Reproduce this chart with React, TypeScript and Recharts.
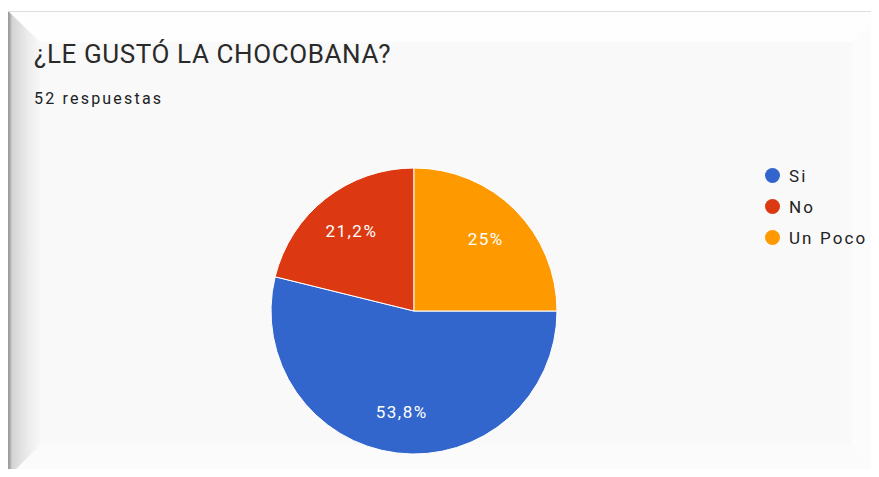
import { PieChart, Pie, Cell, Legend } from "recharts";

const categories = ["Si", "No", "Un Poco"];
const responses = [28, 11, 13];
const colors = ["#3366cc", "#dc3912", "#ff9900"];

const data = categories.map((name, i) => ({ name, value: responses[i] }));

const RADIAN = Math.PI / 180;

function fmtPct(p: number) {
  const s = (p * 100).toFixed(1);
  return (s.endsWith(".0") ? s.slice(0, -2) : s).replace(".", ",") + "%";
}

function renderLabel(props: any) {
  const { cx, cy, midAngle, outerRadius, percent } = props;
  const r = outerRadius * 0.71;
  const x = cx + r * Math.cos(-midAngle * RADIAN);
  const y = cy + r * Math.sin(-midAngle * RADIAN);
  return (
    <text
      x={x}
      y={y}
      fill="#ffffff"
      textAnchor="middle"
      dominantBaseline="central"
      fontFamily="Roboto, Arial, sans-serif"
      fontSize={17}
      letterSpacing={1.5}
    >
      {fmtPct(percent)}
    </text>
  );
}

function LegendBox() {
  return (
    <div style={{ fontFamily: "Roboto, Arial, sans-serif" }}>
      {data.map((d, i) => (
        <div key={d.name} style={{ display: "flex", alignItems: "center", height: 31 }}>
          <span
            style={{
              width: 15,
              height: 15,
              borderRadius: "50%",
              background: colors[i],
              display: "inline-block",
              marginRight: 9,
            }}
          />
          <span style={{ fontSize: 17, color: "#222", letterSpacing: 2.1, whiteSpace: "nowrap" }}>{d.name}</span>
        </div>
      ))}
    </div>
  );
}

export default function App() {
  return (
    <div style={{ position: "relative", width: 879, height: 477, margin: -8, background: "#fff", overflow: "hidden" }}>
      {/* card + bevelled frame */}
      <div style={{ position: "absolute", left: 8, top: 11, width: 871, height: 466, background: "#f9f9f9" }} />
      <div style={{ position: "absolute", left: 0, top: 0, width: 879, height: 477, background: "#fefefe",
        clipPath: "polygon(8px 11px, 879px 11px, 852px 42px, 40px 42px)" }} />
      <div style={{ position: "absolute", left: 0, top: 0, width: 879, height: 477, background: "#fcfcfc",
        clipPath: "polygon(879px 11px, 879px 477px, 852px 445px, 852px 42px)" }} />
      <div style={{ position: "absolute", left: 0, top: 0, width: 879, height: 477, background: "#fbfbfb",
        clipPath: "polygon(8px 477px, 40px 445px, 852px 445px, 879px 477px)" }} />
      <div style={{ position: "absolute", left: 0, top: 0, width: 879, height: 477,
        background: "linear-gradient(to right, #fff 0px, #fff 8px, #9a9a9a 8px, #a8a8a8 10px, #d4d4d4 12px, #ececec 28px, #f7f7f7 40px)",
        clipPath: "polygon(8px 11px, 40px 42px, 40px 445px, 8px 477px)" }} />
      <div style={{ position: "absolute", left: 8, top: 11, width: 871, height: 1, background: "#dedede" }} />

      <div style={{ position: "absolute", left: 34, top: 39, fontFamily: "Roboto, Arial, sans-serif", fontSize: 26,
        color: "#2a2a2a", letterSpacing: 0.6, whiteSpace: "nowrap" }}>
        ¿LE GUSTÓ LA CHOCOBANA?
      </div>
      <div style={{ position: "absolute", left: 34, top: 89, fontFamily: "Roboto, Arial, sans-serif", fontSize: 16,
        color: "#202124", letterSpacing: 2.2, whiteSpace: "nowrap" }}>
        52 respuestas
      </div>

      <div style={{ position: "absolute", left: 0, top: 0 }}>
        <PieChart width={879} height={477} margin={{ top: 0, right: 0, bottom: 0, left: 0 }}>
          <Pie
            data={data}
            dataKey="value"
            nameKey="name"
            cx={414}
            cy={311}
            outerRadius={143}
            startAngle={0}
            endAngle={-360}
            stroke="#ffffff"
            strokeWidth={1}
            label={renderLabel}
            labelLine={false}
            isAnimationActive={false}
          >
            {data.map((d, i) => (
              <Cell key={d.name} fill={colors[i]} />
            ))}
          </Pie>
          <Legend
            layout="vertical"
            content={() => <LegendBox />}
            wrapperStyle={{ position: "absolute", left: 765, top: 160, width: 114 }}
          />
        </PieChart>
      </div>
    </div>
  );
}
